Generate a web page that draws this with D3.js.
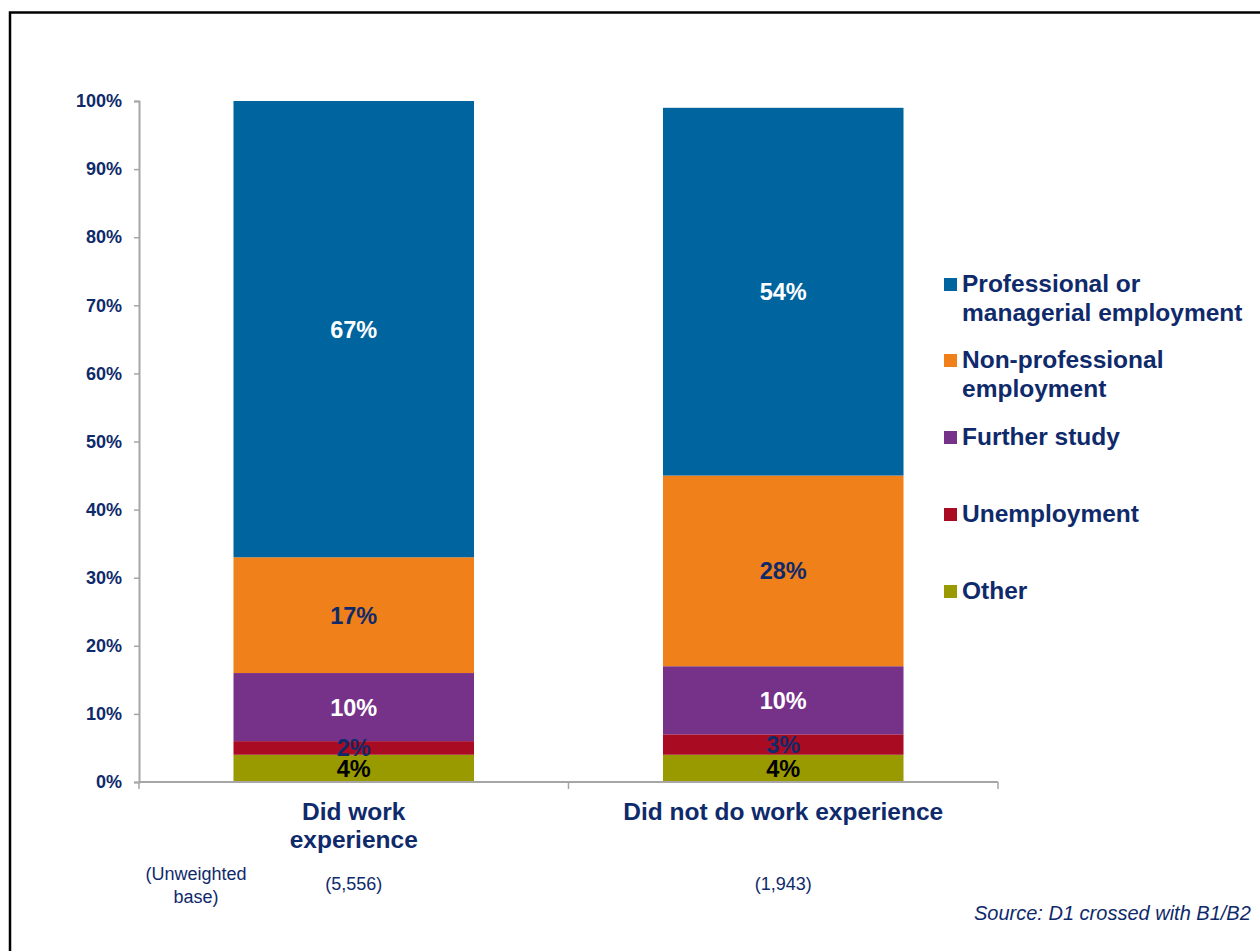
<!DOCTYPE html>
<html>
<head>
<meta charset="utf-8">
<script src="https://cdn.jsdelivr.net/npm/d3@7"></script>
<style>
  html, body { margin: 0; padding: 0; background: #fff; overflow: hidden; }
  svg { display: block; font-family: "Liberation Sans", Arial, sans-serif; }
</style>
</head>
<body>
<svg id="chart" width="1260" height="951"></svg>
<script>
// Destinations of graduates, by whether they did work experience
const categories = ["Did work experience", "Did not do work experience"];
const categoryLines = [["Did work", "experience"], ["Did not do work experience"]];
const bases = ["(5,556)", "(1,943)"];
const seriesNames = ["Other", "Unemployment", "Further study", "Non-professional employment", "Professional or managerial employment"];
const other = [4, 4];
const unemployment = [2, 3];
const furtherStudy = [10, 10];
const nonProfessional = [17, 28];
const professional = [67, 54];
const yTicks = [0, 10, 20, 30, 40, 50, 60, 70, 80, 90, 100];
const legendLines = [
  ["Professional or", "managerial employment"],
  ["Non-professional", "employment"],
  ["Further study"],
  ["Unemployment"],
  ["Other"]
];
const legendKeys = ["Professional or managerial employment", "Non-professional employment", "Further study", "Unemployment", "Other"];

const colors = {
  "Professional or managerial employment": "#00649f",
  "Non-professional employment": "#f08019",
  "Further study": "#763189",
  "Unemployment": "#a80b22",
  "Other": "#999900"
};
const labelColors = {
  "Professional or managerial employment": "#ffffff",
  "Non-professional employment": "#0f2a6b",
  "Further study": "#ffffff",
  "Unemployment": "#0f2a6b",
  "Other": "#000000"
};
const navy = "#0f2a6b";

const rows = categories.map((c, i) => ({
  category: c,
  "Other": other[i],
  "Unemployment": unemployment[i],
  "Further study": furtherStudy[i],
  "Non-professional employment": nonProfessional[i],
  "Professional or managerial employment": professional[i]
}));

const svg = d3.select("#chart");

// frame
svg.append("rect")
  .attr("x", 10).attr("y", 12.5)
  .attr("width", 1400).attr("height", 1100)
  .attr("fill", "none").attr("stroke", "#000").attr("stroke-width", 2.5);

const plot = { left: 139, right: 998, top: 101, bottom: 782 };

const x = d3.scaleBand()
  .domain(categories)
  .range([plot.left, plot.right])
  .paddingInner(0.44)
  .paddingOuter(0.22);

const y = d3.scaleLinear().domain([0, 100]).range([plot.bottom, plot.top]);

const stack = d3.stack().keys(seriesNames);
const layers = stack(rows);

// bars
const g = svg.append("g");
layers.forEach(layer => {
  g.selectAll(null)
    .data(layer)
    .join("rect")
    .attr("x", d => x(d.data.category))
    .attr("width", x.bandwidth())
    .attr("y", d => y(d[1]))
    .attr("height", d => y(d[0]) - y(d[1]))
    .attr("fill", colors[layer.key]);
});

// segment labels
layers.forEach(layer => {
  g.selectAll(null)
    .data(layer)
    .join("text")
    .attr("x", d => x(d.data.category) + x.bandwidth() / 2)
    .attr("y", d => (y(d[0]) + y(d[1])) / 2)
    .attr("dy", "0.36em")
    .attr("text-anchor", "middle")
    .attr("font-size", 23.5)
    .attr("font-weight", "bold")
    .attr("fill", labelColors[layer.key])
    .text(d => (d[1] - d[0]) + "%");
});

// y axis
const yAxis = svg.append("g")
  .attr("transform", `translate(${plot.left},0)`)
  .call(d3.axisLeft(y).tickValues(yTicks).tickFormat(d => d + "%").tickSize(5).tickPadding(12));
yAxis.select(".domain").attr("stroke", "#a6a6a6").attr("stroke-width", 2);
yAxis.selectAll(".tick line").attr("stroke", "#a6a6a6").attr("stroke-width", 1.5);
yAxis.selectAll(".tick text")
  .attr("font-size", 18).attr("font-weight", "bold").attr("fill", navy)
  .attr("font-family", "Liberation Sans, Arial, sans-serif");

// x axis line and category separators
const xAxisG = svg.append("g");
xAxisG.append("line")
  .attr("x1", plot.left).attr("x2", plot.right)
  .attr("y1", plot.bottom).attr("y2", plot.bottom)
  .attr("stroke", "#a6a6a6").attr("stroke-width", 2);
const sepX = [plot.left, plot.left + (plot.right - plot.left) / 2, plot.right];
xAxisG.selectAll(null).data(sepX).join("line")
  .attr("x1", d => d).attr("x2", d => d)
  .attr("y1", plot.bottom).attr("y2", plot.bottom + 7)
  .attr("stroke", "#a6a6a6").attr("stroke-width", 1.5);

// category labels
categories.forEach((c, i) => {
  const cx = x(c) + x.bandwidth() / 2;
  const t = svg.append("text")
    .attr("text-anchor", "middle")
    .attr("font-size", 24.5).attr("font-weight", "bold").attr("fill", navy);
  categoryLines[i].forEach((line, j) => {
    t.append("tspan").attr("x", cx).attr("y", 820 + j * 28).text(line);
  });
  svg.append("text")
    .attr("x", cx).attr("y", 890)
    .attr("text-anchor", "middle")
    .attr("font-size", 18).attr("fill", navy)
    .text(bases[i]);
});

// unweighted base caption
const ub = svg.append("text").attr("text-anchor", "middle")
  .attr("font-size", 18).attr("fill", navy);
ub.append("tspan").attr("x", 196).attr("y", 880).text("(Unweighted");
ub.append("tspan").attr("x", 196).attr("y", 903).text("base)");

// legend
const legendTop = [278, 354, 431, 508, 585];
const legend = svg.append("g");
legendKeys.forEach((k, i) => {
  legend.append("rect")
    .attr("x", 944).attr("y", legendTop[i])
    .attr("width", 13).attr("height", 13)
    .attr("fill", colors[k]);
  const t = legend.append("text")
    .attr("font-size", 24.5).attr("font-weight", "bold").attr("fill", navy);
  legendLines[i].forEach((line, j) => {
    t.append("tspan").attr("x", 962).attr("y", legendTop[i] + 14 + j * 28.5).text(line);
  });
});

// source note
svg.append("text")
  .attr("x", 974).attr("y", 920)
  .attr("font-size", 20).attr("font-style", "italic").attr("fill", navy)
  .text("Source: D1 crossed with B1/B2");
</script>
</body>
</html>
